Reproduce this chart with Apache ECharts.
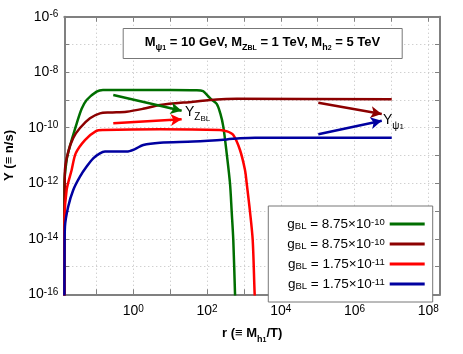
<!DOCTYPE html>
<html><head><meta charset="utf-8">
<script src="https://cdn.jsdelivr.net/npm/echarts@6/dist/echarts.min.js"></script>
<style>html,body{margin:0;padding:0;background:#fff}#c{width:463px;height:354px}</style>
</head><body><div id="c"></div>
<script>
// Axis ranges and ticks
const xMin = 0.0135, xMax = 2.07e8;
const yMin = 1e-16, yMax = 1e-6;
const xTickValues = [0.1, 1, 10, 100, 1e3, 1e4, 1e5, 1e6, 1e7, 1e8];
const xLabelValues = [1, 100, 1e4, 1e6, 1e8];
const yTickValues = [1e-16, 1e-15, 1e-14, 1e-13, 1e-12, 1e-11, 1e-10, 1e-9, 1e-8, 1e-7, 1e-6];
const yLabelValues = [1e-16, 1e-14, 1e-12, 1e-10, 1e-8, 1e-6];

// Legend texts
const gMantissa = ['8.75', '8.75', '1.75', '1.75'];
const gExponent = ['-10', '-10', '-11', '-11'];
const seriesColors = ['#006e00', '#8c0000', '#ff0000', '#0000a0'];

// Curve 1: g=8.75e-10, Y_ZBL (green)
const rGreen = [0.01352, 0.0136, 0.0156, 0.0181, 0.0214, 0.0292, 0.0399, 0.0545, 0.1016, 0.151, 1.0, 10, 50, 78, 98, 130, 183, 230, 276, 341, 419, 466, 515, 573, 610];
const yGreen = [1e-17, 1.0e-12, 6.9e-12, 1.66e-11, 3.6e-11, 1.41e-10, 4.8e-10, 1.0e-9, 2.0e-9, 2.3e-9, 2.3e-9, 2.3e-9, 2.25e-9, 2.1e-9, 1.55e-9, 1.05e-9, 7.2e-10, 3.2e-10, 1.1e-10, 1.2e-11, 1.0e-12, 9.5e-14, 9.1e-15, 1.1e-16, 1e-17];
// Curve 2: g=8.75e-10, Y_psi1 (maroon)
const rMaroon = [0.01352, 0.0137, 0.01406, 0.01726, 0.0236, 0.0359, 0.067, 0.125, 0.233, 0.662, 1.83, 5.3, 42.4, 183, 637, 1.017e7];
const yMaroon = [1e-17, 2.5e-13, 3.0e-12, 1.35e-11, 4.3e-11, 9.8e-11, 2.2e-10, 3.3e-10, 3.55e-10, 3.8e-10, 4.8e-10, 6.6e-10, 8.7e-10, 1.05e-9, 1.1e-9, 1.07e-9];
// Curve 3: g=1.75e-11, Y_ZBL (red)
const rRed = [0.01352, 0.01371, 0.01563, 0.02135, 0.0276, 0.049, 0.0973, 0.154, 5.3, 224, 348, 515, 783, 1069, 1189, 1462, 1730, 1950, 2125];
const yRed = [1e-17, 5.0e-14, 5.75e-13, 3.0e-12, 1.2e-11, 3.6e-11, 7.6e-11, 8.3e-11, 8.9e-11, 8.3e-11, 7.4e-11, 5.5e-11, 1.58e-11, 3.0e-12, 1.0e-12, 9.5e-14, 9.1e-15, 1.1e-16, 1e-17];
// Curve 4: g=1.75e-11, Y_psi1 (blue)
const rBlue = [0.01352, 0.0137, 0.01406, 0.01726, 0.0236, 0.0359, 0.0545, 0.0822, 0.125, 0.171, 0.662, 1.11, 1.87, 5.3, 42.4, 341, 783, 1990, 1.017e7];
const yBlue = [1e-17, 3.2e-15, 2.75e-14, 1.45e-13, 5.75e-13, 1.74e-12, 4.0e-12, 7.9e-12, 1.2e-11, 1.38e-11, 1.38e-11, 1.7e-11, 2.4e-11, 2.9e-11, 3.2e-11, 3.8e-11, 4.2e-11, 4.4e-11, 4.4e-11];

// Arrow annotations [r0, Y0, r1, Y1]
const arrowGreen = [0.287, 1.51e-9, 20.5, 4.11e-10];
const arrowRed = [0.287, 1.45e-10, 20.5, 2.01e-10];
const arrowMaroon = [1.04e5, 7.98e-10, 5.45e6, 3.13e-10];
const arrowBlue = [1.04e5, 5.8e-11, 5.45e6, 1.79e-10];
const labelZ = [25.2, 3.8e-10];
const labelPsi = [5.9e6, 1.9e-10];

const FONT = 'Liberation Sans, Arial, Helvetica, sans-serif';
const pairs = (r, y) => r.map((v, i) => [v, y[i]]);
const names = ['c1', 'c2', 'c3', 'c4'];

const tickRich = {
  a: {fontSize: 14, lineHeight: 14, verticalAlign: 'bottom', fontFamily: FONT, color: '#000'},
  p: {fontSize: 10, lineHeight: 10, verticalAlign: 'top', padding: [0, 0, 8, 0], fontFamily: FONT, color: '#000'}
};
function expLabel(allowed) {
  return function (v) {
    const l = Math.log10(v), e = Math.round(l);
    if (Math.abs(l - e) > 1e-6) return '';
    if (!allowed.some(a => Math.abs(Math.log10(a) - e) < 1e-6)) return '';
    return '{a|10}{p|' + e + '}';
  };
}
const axisColor = '#808080';
const boldRich = {
  b: {fontSize: 13, fontWeight: 'bold', lineHeight: 20, fontFamily: FONT, color: '#000'},
  s: {fontSize: 9, fontWeight: 'bold', lineHeight: 12, verticalAlign: 'bottom', fontFamily: FONT, color: '#000'},
  ss: {fontSize: 7, fontWeight: 'bold', lineHeight: 6, verticalAlign: 'bottom', fontFamily: FONT, color: '#000'}
};
const labRich = {
  Y: {fontSize: 14, lineHeight: 22, fontFamily: FONT, color: '#000'},
  s: {fontSize: 10, lineHeight: 12, verticalAlign: 'bottom', fontFamily: FONT, color: '#000'},
  ss: {fontSize: 8, lineHeight: 3, verticalAlign: 'bottom', fontFamily: FONT, color: '#000'}
};

function arrow(a, color) {
  return {
    silent: true, animation: false,
    symbol: ['none', 'arrow'], symbolSize: [9, 11],
    label: {show: false},
    emphasis: {disabled: true},
    lineStyle: {color: color, width: 2.5, type: 'solid'},
    data: [[{coord: [a[0], a[1]]}, {coord: [a[2], a[3]]}]]
  };
}
function textMark(pos, text) {
  return {
    silent: true, animation: false, symbol: 'circle', symbolSize: 0,
    itemStyle: {color: 'transparent'},
    label: {show: true, position: 'right', distance: 0, formatter: text, rich: labRich},
    data: [{coord: pos}]
  };
}
function lineSeries(i, r, y, extra) {
  return Object.assign({
    name: names[i], type: 'line', data: pairs(r, y),
    showSymbol: false, symbol: 'none', smooth: 0.3,
    lineStyle: {width: 2.5, color: seriesColors[i]},
    itemStyle: {color: seriesColors[i]},
    emphasis: {disabled: true}, animation: false
  }, extra || {});
}

const chart = echarts.init(document.getElementById('c'), null, {renderer: 'canvas'});
chart.setOption({
  animation: false,
  backgroundColor: '#fff',
  textStyle: {fontFamily: FONT},
  grid: {left: 64.3, right: 23, top: 16.7, bottom: 59.7, containLabel: false, outerBoundsMode: 'none'},
  title: {
    text: '{b|M}{s|ψ}{ss|1}{b| = 10 GeV, M}{s|Z}{ss|BL}{b| = 1 TeV, M}{s|h}{ss|2}{b| = 5 TeV}',
    left: 122.7, top: 25, padding: [7, 22, 7, 22],
    borderColor: '#777', borderWidth: 1, backgroundColor: '#fff',
    textStyle: {rich: boldRich}
  },
  legend: {
    orient: 'vertical', right: 30.3, top: 206, align: 'right',
    icon: 'rect', itemWidth: 35, itemHeight: 3, itemGap: 1,
    padding: [9, 8, 8, 19], borderColor: '#777', borderWidth: 1, backgroundColor: '#fff',
    selectedMode: false,
    data: names,
    formatter: function (n) {
      const i = names.indexOf(n);
      return '{n|g}{s|BL}{n| = ' + gMantissa[i] + '×10}{p|' + gExponent[i] + '}';
    },
    textStyle: {
      rich: {
        n: {fontSize: 13.5, lineHeight: 14, verticalAlign: 'bottom', fontFamily: FONT, color: '#000', padding: [2, 0, 0, 0]},
        s: {fontSize: 9.5, lineHeight: 8, verticalAlign: 'bottom', fontFamily: FONT, color: '#000'},
        p: {fontSize: 9.5, lineHeight: 9, verticalAlign: 'top', fontFamily: FONT, color: '#000', padding: [0, 0, 7, 0]}
      }
    }
  },
  xAxis: [{
    type: 'log', min: xMin, max: xMax, position: 'bottom',
    name: '{b|r (≡ M}{s|h}{ss|1}{b|/T)}', nameLocation: 'middle', nameGap: 23,
    nameTextStyle: {rich: boldRich},
    axisLine: {show: true, lineStyle: {color: axisColor, width: 2}},
    axisTick: {show: true, inside: true, length: 5, customValues: xTickValues, lineStyle: {color: axisColor, width: 1}},
    minorTick: {show: false},
    axisLabel: {show: true, margin: 10, customValues: xLabelValues, formatter: expLabel(xLabelValues), rich: tickRich},
    splitLine: {show: true, lineStyle: {type: [1, 3], color: '#bdbdbd', width: 1}}
  }, {
    type: 'log', min: xMin, max: xMax, position: 'top',
    axisLine: {show: true, lineStyle: {color: axisColor, width: 2}},
    axisTick: {show: true, inside: true, length: 5, customValues: xTickValues, lineStyle: {color: axisColor, width: 1}},
    axisLabel: {show: false}, splitLine: {show: false}
  }],
  yAxis: [{
    type: 'log', min: yMin, max: yMax, position: 'left',
    name: '{b|Y (≡ n/s)}', nameLocation: 'middle', nameGap: 45,
    nameTextStyle: {rich: boldRich},
    axisLine: {show: true, lineStyle: {color: axisColor, width: 2}},
    axisTick: {show: true, inside: true, length: 5, customValues: yTickValues, lineStyle: {color: axisColor, width: 1}},
    minorTick: {show: false},
    axisLabel: {show: true, margin: 6, customValues: yLabelValues, formatter: expLabel(yLabelValues), rich: tickRich},
    splitLine: {show: true, lineStyle: {type: [1, 3], color: '#bdbdbd', width: 1}}
  }, {
    type: 'log', min: yMin, max: yMax, position: 'right',
    axisLine: {show: true, lineStyle: {color: axisColor, width: 2}},
    axisTick: {show: true, inside: true, length: 5, customValues: yTickValues, lineStyle: {color: axisColor, width: 1}},
    axisLabel: {show: false}, splitLine: {show: false}
  }],
  series: [
    lineSeries(0, rGreen, yGreen, {markLine: arrow(arrowGreen, seriesColors[0]),
      markPoint: textMark(labelZ, '{Y|Y}{s|Z}{ss|BL}')}),
    lineSeries(1, rMaroon, yMaroon, {markLine: arrow(arrowMaroon, seriesColors[1])}),
    lineSeries(2, rRed, yRed, {markLine: arrow(arrowRed, seriesColors[2])}),
    lineSeries(3, rBlue, yBlue, {markLine: arrow(arrowBlue, seriesColors[3]),
      markPoint: textMark(labelPsi, '{Y|Y}{s|ψ}{ss|1}')})
  ]
});
</script></body></html>
